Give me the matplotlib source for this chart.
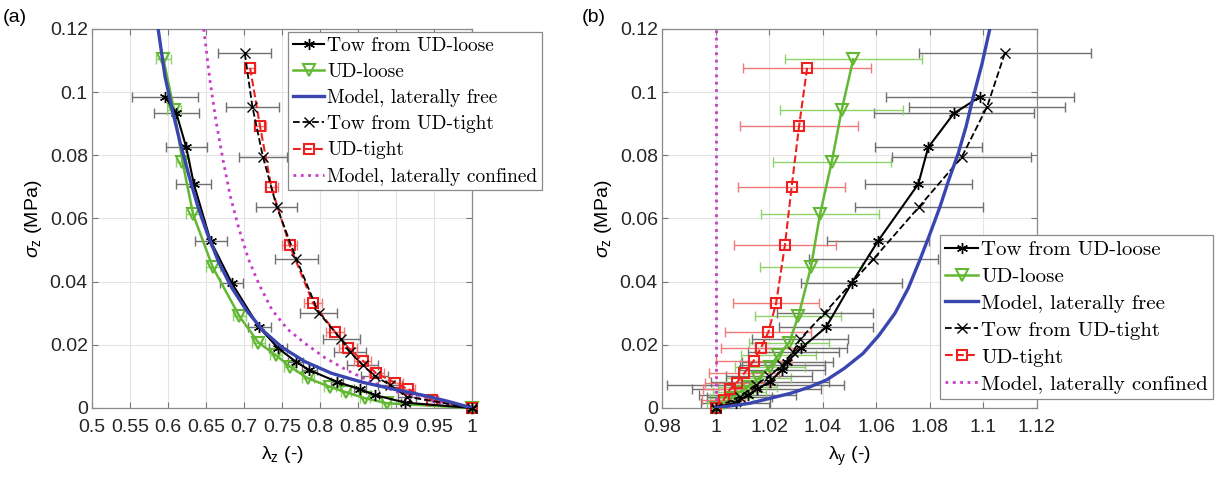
import numpy as np
import matplotlib
matplotlib.use('Agg')
import matplotlib.pyplot as plt

# stress levels (MPa), shared by both panels
sig_tow_loose = [0.0985, 0.0933, 0.0825, 0.0709, 0.0529, 0.0395, 0.0255, 0.0189,
                 0.0147, 0.0120, 0.0083, 0.0059, 0.0041, 0.0017, 0.0]
sig_ud_loose = [0.1104, 0.0943, 0.0780, 0.0613, 0.0445, 0.0290, 0.0207, 0.0167,
                0.0130, 0.0094, 0.0067, 0.0050, 0.0031, 0.0015, 0.0]
sig_tow_tight = [0.1123, 0.0954, 0.0794, 0.0637, 0.0471, 0.0302, 0.0217, 0.0178,
                 0.0136, 0.0101, 0.0073, 0.0036, 0.0]
sig_ud_tight = [0.1077, 0.0893, 0.0699, 0.0515, 0.0331, 0.0240, 0.0191, 0.0150,
                0.0110, 0.0080, 0.0059, 0.0025, 0.0]

# (a) lambda_z
lz_tow_loose = [0.596, 0.611, 0.624, 0.634, 0.656, 0.684, 0.720, 0.745,
                0.768, 0.786, 0.822, 0.853, 0.872, 0.912, 1.0]
lz_tow_loose_err = [0.043, 0.030, 0.027, 0.023, 0.021, 0.015, 0.015, 0.012,
                    0.010, 0.010, 0.008, 0.008, 0.006, 0.006, 0.0]
lz_ud_loose = [0.594, 0.608, 0.619, 0.633, 0.659, 0.694, 0.719, 0.742,
               0.761, 0.784, 0.813, 0.834, 0.859, 0.888, 1.0]
lz_ud_loose_err = [0.010, 0.009, 0.009, 0.009, 0.009, 0.009, 0.009, 0.008,
                   0.008, 0.008, 0.008, 0.007, 0.007, 0.006, 0.0]
lz_tow_tight = [0.701, 0.711, 0.725, 0.743, 0.769, 0.798, 0.828, 0.839,
                0.856, 0.872, 0.892, 0.914, 1.0]
lz_tow_tight_err = [0.035, 0.035, 0.031, 0.027, 0.028, 0.024, 0.024, 0.021,
                    0.020, 0.018, 0.016, 0.012, 0.0]
lz_ud_tight = [0.708, 0.721, 0.736, 0.760, 0.791, 0.820, 0.837, 0.856,
               0.874, 0.899, 0.916, 0.947, 1.0]
lz_ud_tight_err = [0.007, 0.008, 0.009, 0.010, 0.012, 0.012, 0.012, 0.011,
                   0.010, 0.010, 0.009, 0.008, 0.0]

lz_free = [0.587, 0.596, 0.606, 0.616, 0.627, 0.639, 0.652, 0.667, 0.684,
           0.703, 0.725, 0.750, 0.780, 0.815, 0.855, 0.900, 0.940, 0.970, 1.0]
sig_lz_free = [0.120, 0.105, 0.094, 0.084, 0.074, 0.064, 0.055, 0.046, 0.038,
               0.031, 0.0245, 0.0192, 0.0147, 0.0110, 0.0082, 0.0058, 0.0038,
               0.0020, 0.0]
lz_conf = [0.647, 0.655, 0.663, 0.672, 0.682, 0.693, 0.706, 0.720, 0.737,
           0.757, 0.780, 0.806, 0.835, 0.868, 0.905, 0.950, 1.0]
sig_lz_conf = [0.120, 0.104, 0.091, 0.079, 0.067, 0.057, 0.047, 0.039, 0.031,
               0.025, 0.0205, 0.016, 0.012, 0.0082, 0.0048, 0.0020, 0.0]

# (b) lambda_y
ly_tow_loose = [1.0987, 1.0890, 1.0794, 1.0757, 1.0607, 1.0508, 1.0412, 1.0319,
                1.0268, 1.0247, 1.0203, 1.0153, 1.0120, 1.0075, 1.0]
ly_tow_loose_err = [0.035, 0.030, 0.020, 0.020, 0.019, 0.019, 0.0175, 0.017,
                    0.017, 0.016, 0.022, 0.024, 0.018, 0.013, 0.0]
ly_ud_loose = [1.0514, 1.0471, 1.0434, 1.0390, 1.0356, 1.0309, 1.0275, 1.0234,
               1.0203, 1.0160, 1.0120, 1.0090, 1.0060, 1.0030, 1.0]
ly_ud_loose_err = [0.0255, 0.023, 0.022, 0.022, 0.019, 0.016, 0.015, 0.014,
                   0.013, 0.012, 0.011, 0.010, 0.008, 0.006, 0.0]
ly_tow_tight = [1.1080, 1.1014, 1.0919, 1.0760, 1.0589, 1.0408, 1.0315, 1.0290,
                1.0250, 1.0200, 1.0150, 1.0090, 1.0]
ly_tow_tight_err = [0.032, 0.029, 0.026, 0.024, 0.024, 0.018, 0.018, 0.017,
                    0.016, 0.016, 0.033, 0.012, 0.0]
ly_ud_tight = [1.0342, 1.0312, 1.0284, 1.0259, 1.0226, 1.0197, 1.0170, 1.0143,
               1.0107, 1.0079, 1.0054, 1.0030, 1.0]
ly_ud_tight_err = [0.024, 0.022, 0.020, 0.019, 0.016, 0.016, 0.015, 0.014,
                   0.013, 0.012, 0.010, 0.008, 0.0]

ly_free = [1.0, 1.0128, 1.0278, 1.035, 1.0415, 1.048, 1.0551, 1.061, 1.067,
           1.072, 1.0763, 1.080, 1.0838, 1.087, 1.0906, 1.0935, 1.0962, 1.0995, 1.1024]
sig_ly_free = [0.0, 0.0015, 0.0046, 0.0066, 0.0089, 0.0125, 0.0173, 0.0230, 0.0300,
               0.0380, 0.0469, 0.0550, 0.0637, 0.0720, 0.0806, 0.0890, 0.0984,
               0.1090, 0.1200]
ly_conf = [1.0, 1.0]
sig_ly_conf = [0.0, 0.12]

c_green = '#62b832'
c_red = '#ee2020'
c_blue = '#3a46b0'
c_mag = '#c83cc8'

plt.rcParams['font.family'] = ['Liberation Sans', 'DejaVu Sans']
plt.rcParams['mathtext.fontset'] = 'custom'
plt.rcParams['mathtext.rm'] = 'Liberation Sans'
plt.rcParams['mathtext.it'] = 'Liberation Sans:italic'

fig = plt.figure(figsize=(12.27, 4.83), dpi=100)
ax1 = fig.add_axes([0.0750, 0.1553, 0.3097, 0.7847])
ax2 = fig.add_axes([0.5395, 0.1553, 0.3056, 0.7847])


def draw(ax, lt, lte, lu, lue, ltt, ltte, lut, lute, lf, sf, lc, sc, clip):
    ebar = dict(fmt='none', capsize=3.5, elinewidth=1.0, capthick=1.0, clip_on=clip, zorder=2)
    ax.errorbar(lt, sig_tow_loose, xerr=lte, ecolor='#707070', **ebar)
    ax.errorbar(lu, sig_ud_loose, xerr=lue, ecolor='#8ed26c', **ebar)
    ax.errorbar(ltt, sig_tow_tight, xerr=ltte, ecolor='#707070', **ebar)
    ax.errorbar(lut, sig_ud_tight, xerr=lute, ecolor='#f07a7a', **ebar)

    h1, = ax.plot(lt, sig_tow_loose, '-', color='k', lw=1.5, marker=(6, 2, 0), ms=8,
                  clip_on=False, zorder=4, label='Tow from UD-loose')
    h2, = ax.plot(lu, sig_ud_loose, '-', color=c_green, lw=1.8, marker='v', ms=8,
                  mfc='none', mew=1.5, clip_on=False, zorder=3, label='UD-loose')
    h3, = ax.plot(lf, sf, '-', color=c_blue, lw=2.4, zorder=5, label='Model, laterally free')
    h4, = ax.plot(ltt, sig_tow_tight, '--', color='k', lw=1.3, marker='x', ms=7,
                  clip_on=False, zorder=4, label='Tow from UD-tight')
    h5, = ax.plot(lut, sig_ud_tight, '--', color=c_red, lw=1.5, marker='s', ms=7,
                  mfc='none', mew=1.5, clip_on=False, zorder=3, label='UD-tight')
    h6, = ax.plot(lc, sc, ':', color=c_mag, lw=2.0, zorder=3, label='Model, laterally confined')
    return [h1, h2, h3, h4, h5, h6]


hs1 = draw(ax1, lz_tow_loose, lz_tow_loose_err, lz_ud_loose, lz_ud_loose_err,
           lz_tow_tight, lz_tow_tight_err, lz_ud_tight, lz_ud_tight_err,
           lz_free, sig_lz_free, lz_conf, sig_lz_conf, True)
hs2 = draw(ax2, ly_tow_loose, ly_tow_loose_err, ly_ud_loose, ly_ud_loose_err,
           ly_tow_tight, ly_tow_tight_err, ly_ud_tight, ly_ud_tight_err,
           ly_free, sig_ly_free, ly_conf, sig_ly_conf, False)

ax1.set_xlim(0.5, 1.0)
ax1.set_xticks(np.round(np.arange(0.5, 1.001, 0.05), 2))
ax2.set_xlim(0.98, 1.12)
ax2.set_xticks(np.round(np.arange(0.98, 1.121, 0.02), 2))
ax1.set_xlabel('λ$_\\mathregular{z}$ (-)', fontsize=14, labelpad=6)
ax2.set_xlabel('λ$_\\mathregular{y}$ (-)', fontsize=14, labelpad=6)

for ax in (ax1, ax2):
    ax.set_ylim(0, 0.12)
    ax.set_yticks(np.round(np.arange(0, 0.121, 0.02), 2))
    ax.xaxis.set_major_formatter(plt.FuncFormatter(lambda v, p: '%g' % v))
    ax.yaxis.set_major_formatter(plt.FuncFormatter(lambda v, p: '%g' % v))
    ax.set_ylabel('$\\mathit{\\sigma}_\\mathregular{z}$ (MPa)', fontsize=14)
    ax.grid(True, color='#e4e4e4', lw=0.8)
    ax.set_axisbelow(True)
    ax.tick_params(direction='in', top=True, right=True, length=4, labelsize=14,
                   color='#777777', labelcolor='#262626', pad=3)
    ax.tick_params(axis='x', pad=8)
    for s in ax.spines.values():
        s.set_color('#8a8a8a')
        s.set_linewidth(0.9)

leg_kw = dict(loc='upper left', fancybox=False, framealpha=1, edgecolor='#8a8a8a',
              borderpad=0.25, handlelength=1.6, handletextpad=0.15, borderaxespad=0)
l1 = ax1.legend(handles=hs1, bbox_to_anchor=(0.516, 0.992), labelspacing=0.42,
                prop={'family': 'cmr10', 'size': 14}, **leg_kw)
l2 = ax2.legend(handles=hs2, bbox_to_anchor=(0.741, 0.456), labelspacing=0.4,
                prop={'family': 'cmr10', 'size': 15}, **leg_kw)
for lg in (l1, l2):
    lg.get_frame().set_linewidth(0.9)
    lg.set_zorder(10)

fig.text(0.002, 0.963, '(a)', fontsize=14, va='center')
fig.text(0.474, 0.963, '(b)', fontsize=14, va='center')

fig.savefig('out.png', dpi=100)
